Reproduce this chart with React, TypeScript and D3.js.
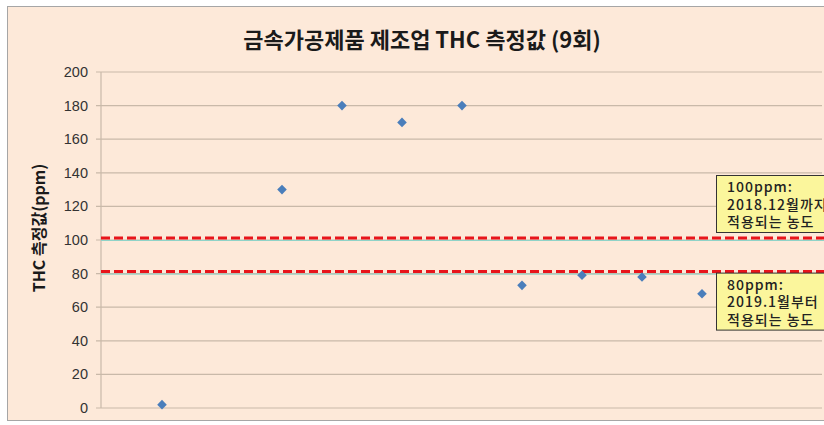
import React from "react";
import * as d3 from "d3";

// Measurement rounds (x) and THC concentrations (ppm)
const rounds = [1, 3, 4, 5, 6, 7, 8, 9, 10];
const thcValues = [2, 130, 180, 170, 180, 73, 79, 78, 68];
const yTicks = [0, 20, 40, 60, 80, 100, 120, 140, 160, 180, 200];
const limits = [100, 80];
const limitNotes = [
  ["100ppm:", "2018.12월까지", "적용되는 농도"],
  ["80ppm:", "2019.1월부터", "적용되는 농도"],
];
const title = "금속가공제품 제조업 THC 측정값 (9회)";
const yLabel = "THC 측정값(ppm)";

const W = 824;
const H = 425;
const plot = { left: 101, right: 822, top: 72, bottom: 408 };

export default function App() {
  const x = d3.scaleLinear().domain([0, 12]).range([plot.left + 1, plot.left + 721]);
  const y = d3.scaleLinear().domain([0, 200]).range([plot.bottom, plot.top]);
  // rotated square marker
  const marker = d3.symbol().type(d3.symbolSquare).size(46)() as string;

  return (
    <svg
      width={W}
      height={H}
      style={{ position: "absolute", left: 0, top: 0, background: "#fff" }}
      fontFamily="'Liberation Sans', Arial, sans-serif"
    >
      <rect x={7.5} y={6.5} width={W} height={414} fill="#fde9d9" stroke="#a6a6a6" />

      <text
        x={422}
        y={48}
        textAnchor="middle"
        fontSize={22}
        fontWeight="bold"
        fontFamily="'Noto Sans CJK KR', sans-serif"
        fill="#1a1a1a"
      >
        {title}
      </text>

      {/* gridlines */}
      {yTicks.map((t) => (
        <g key={t}>
          <line x1={plot.left - 5} x2={plot.right} y1={y(t)} y2={y(t)} stroke="#c9b9a9" strokeWidth={1.2} />
          <text x={88} y={y(t) + 5} textAnchor="end" fontSize={14.5} fill="#333">
            {t}
          </text>
        </g>
      ))}
      <line x1={plot.left} x2={plot.left} y1={plot.top} y2={plot.bottom} stroke="#c9b9a9" strokeWidth={1.2} />

      <text
        transform={`translate(45,${(plot.top + plot.bottom) / 2 - 12}) rotate(-90)`}
        textAnchor="middle"
        fontSize={16}
        fontWeight="bold"
        fontFamily="'Noto Sans CJK KR', sans-serif"
        fill="#1a1a1a"
      >
        {yLabel}
      </text>

      {/* regulatory limits */}
      {limits.map((v) => (
        <g key={v}>
          <line x1={plot.left} x2={W} y1={y(v) + 0.5} y2={y(v) + 0.5} stroke="#8fd3c8" strokeWidth={1} />
          <line
            x1={plot.left}
            x2={W}
            y1={y(v)}
            y2={y(v)}
            transform="translate(0,-2)"
            stroke="#e8151b"
            strokeWidth={3}
            strokeDasharray="9,4"
          />
        </g>
      ))}

      {/* measurements */}
      {rounds.map((r, i) => (
        <path
          key={r}
          d={marker}
          transform={`translate(${x(r)},${y(thcValues[i])}) rotate(45)`}
          fill="#4a7ebb"
        />
      ))}

      {/* limit notes */}
      {limitNotes.map((lines, i) => {
        const top = i === 0 ? y(limits[0]) - 65 : y(limits[1]) - 1;
        return (
          <g key={i}>
            <rect x={716.5} y={top + 0.5} width={120} height={57} fill="#fbf69c" stroke="#333" strokeWidth={1} />
            {lines.map((s, j) => (
              <text
                key={j}
                x={727}
                y={top + 17 + j * 17.5}
                fontSize={14}
                letterSpacing={1}
                fontWeight={500}
                fontFamily="'Noto Sans CJK KR', sans-serif"
                fill="#222"
              >
                {s}
              </text>
            ))}
          </g>
        );
      })}
    </svg>
  );
}
